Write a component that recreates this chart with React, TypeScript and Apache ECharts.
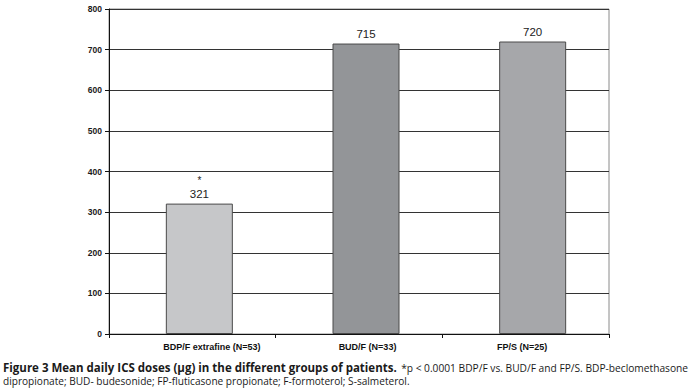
import React, { useEffect, useRef } from "react";
import * as echarts from "echarts";

const categories = ["BDP/F extrafine (N=53)", "BUD/F (N=33)", "FP/S (N=25)"];
const meanDoses = [321, 715, 720];
const barColors = ["#c6c7c9", "#939598", "#a6a7aa"];
const significance = ["*", "", ""];
const yTicks = { min: 0, max: 800, interval: 100 };
const captionBold = "Figure 3 Mean daily ICS doses (\u03bcg) in the different groups of patients.";
const captionRest1 = "*p < 0.0001 BDP/F vs. BUD/F and FP/S. BDP-beclomethasone";
const captionLine2 = "dipropionate; BUD- budesonide; FP-fluticasone propionate; F-formoterol; S-salmeterol.";

// layout: horizontal nudges of the category labels as set in the original figure
const labelPadding = [
  [0, 0, 0, 39],
  [0, 0, 0, 17],
  [0, 7, 0, 0],
];

export default function App() {
  const ref = useRef<HTMLDivElement>(null);
  useEffect(() => {
    if (!ref.current) return;
    const chart = echarts.init(ref.current, undefined, { renderer: "svg" });
    const labelFont = "Arial, 'Liberation Sans', sans-serif";
    const capFont = "'Open Sans', 'Noto Sans', sans-serif";
    chart.setOption({
      animation: false,
      backgroundColor: "#ffffff",
      grid: [
        { left: 109, top: 9, width: 500, height: 325, show: true, borderColor: "#8a8a8a", borderWidth: 1, containLabel: false },
        { left: 116, top: 9, width: 500, height: 325, show: false, containLabel: false },
      ],
      xAxis: [
        {
          type: "category",
          gridIndex: 0,
          data: categories.map((c, i) => ({ value: c, textStyle: { padding: labelPadding[i] } })),
          axisLine: { lineStyle: { color: "#111", width: 1 } },
          axisTick: { show: true, alignWithLabel: false, length: 4, lineStyle: { color: "#111" } },
          axisLabel: { color: "#111", fontFamily: labelFont, fontWeight: "bold", fontSize: 9, margin: 8 },
        },
        {
          type: "category",
          gridIndex: 1,
          data: categories,
          show: false,
        },
      ],
      yAxis: [
        {
          type: "value",
          gridIndex: 0,
          min: yTicks.min,
          max: yTicks.max,
          interval: yTicks.interval,
          axisLine: { show: true, lineStyle: { color: "#111", width: 1 } },
          axisTick: { show: true, length: 4, lineStyle: { color: "#111" } },
          axisLabel: { color: "#1a1a1a", fontFamily: labelFont, fontWeight: "bold", fontSize: 8.5, margin: 7 },
          splitLine: { show: true, lineStyle: { color: "#333", width: 1 } },
        },
        {
          type: "value",
          gridIndex: 1,
          min: yTicks.min,
          max: yTicks.max,
          interval: yTicks.interval,
          show: false,
          splitLine: { show: false },
        },
      ],
      series: [
        {
          type: "bar",
          xAxisIndex: 1,
          yAxisIndex: 1,
          barWidth: 67,
          data: meanDoses.map((v, i) => ({
            value: v,
            itemStyle: { color: barColors[i], borderColor: "#4a4a4a", borderWidth: 1 },
          })),
          label: {
            show: true,
            position: "top",
            distance: 3,
            formatter: (p: any) => {
              const s = significance[p.dataIndex];
              return s ? `{s|${s}}\n{v|${p.value}}` : `{v|${p.value}}`;
            },
            rich: {
              s: { fontFamily: labelFont, fontSize: 10, color: "#222", lineHeight: 15, align: "center" },
              v: { fontFamily: labelFont, fontSize: 11.5, color: "#222", lineHeight: 13, align: "center" },
            },
          },
        },
      ],
      graphic: [
        {
          type: "text",
          x: 3,
          y: 367.5,
          style: {
            text: captionBold, fontFamily: capFont, fontWeight: "bold", fontSize: 11.5, lineHeight: 11.5,
            fill: "#1a1a1a", verticalAlign: "middle",
          },
        },
        {
          type: "text",
          x: 688,
          y: 367.5,
          style: {
            text: captionRest1, fontFamily: capFont, fontSize: 10.2, lineHeight: 11,
            fill: "#1a1a1a", align: "right", verticalAlign: "middle",
          },
        },
        {
          type: "text",
          x: 3,
          y: 380.5,
          style: {
            text: captionLine2, fontFamily: capFont, fontSize: 10.1, lineHeight: 10,
            fill: "#1a1a1a", verticalAlign: "middle",
          },
        },
      ],
    });
    return () => chart.dispose();
  }, []);
  return (
    <div
      ref={ref}
      style={{ position: "fixed", left: 0, top: 0, width: 697, height: 389, background: "#fff" }}
    />
  );
}
